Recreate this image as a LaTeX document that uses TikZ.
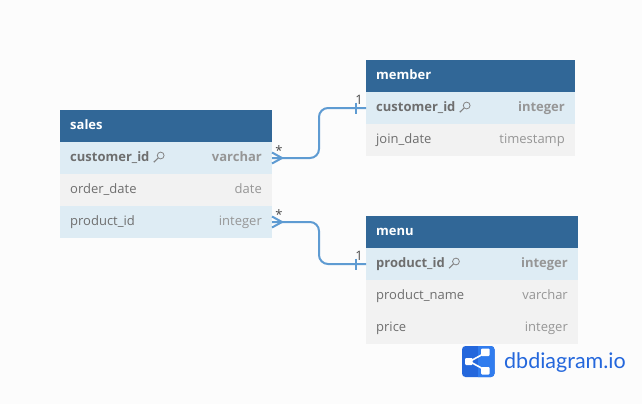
\documentclass[tikz,border=0pt]{standalone}
\usepackage{fontspec}
\setmainfont{Open Sans}
\newfontfamily\logofont{Lato}
\usepackage{xcolor}
\usetikzlibrary{positioning, calc}
\definecolor{pagewhite}{RGB}{252, 252, 252}
\definecolor{headblue}{RGB}{49, 103, 151}
\definecolor{keyrow}{RGB}{222, 236, 244}
\definecolor{plainrow}{RGB}{242, 242, 242}
\definecolor{linkblue}{RGB}{94, 155, 210}
\definecolor{namegray}{RGB}{110, 110, 110}
\definecolor{typegray}{RGB}{150, 150, 150}
\definecolor{logoblue}{RGB}{36, 103, 220}
\definecolor{logolight}{RGB}{48, 124, 238}

\begin{document}
\begin{tikzpicture}[
    x=1pt, y=-1pt,
    header/.style={rectangle, fill=headblue, text=white, inner sep=0pt, outer sep=0pt, minimum width=#1, minimum height=32pt, anchor=north west},
    headtext/.style={text=white, inner sep=0pt, anchor=base west, font=\fontsize{13}{15}\selectfont\bfseries},
    keybox/.style={rectangle, fill=keyrow, inner sep=0pt, outer sep=0pt, minimum width=#1, minimum height=32pt},
    plainbox/.style={rectangle, fill=plainrow, inner sep=0pt, outer sep=0pt, minimum width=#1, minimum height=32pt},
    colname/.style={text=namegray, font=\fontsize{13}{15}\selectfont, inner sep=0pt, anchor=base west},
    coltype/.style={text=typegray, font=\fontsize{13}{15}\selectfont, inner sep=0pt, anchor=base east},
    keyname/.style={text=namegray, font=\fontsize{13}{15}\selectfont\bfseries, inner sep=0pt, anchor=base west},
    keytype/.style={text=typegray, font=\fontsize{13}{15}\selectfont\bfseries, inner sep=0pt, anchor=base east},
    link/.style={draw=linkblue, line width=2pt, rounded corners=9pt},
    crow/.style={draw=linkblue, line width=2pt},
    endlabel/.style={text=black!70, font=\fontsize{13}{15}\selectfont, inner sep=0pt},
    keyicon/.pic={
        \draw[namegray!85, line width=0.8pt] (7.5,3.5) circle (3.4);
        \draw[namegray!85, line width=1.1pt] (5,6) -- (0.6,10.2);
    }
]
\useasboundingbox (0,0) rectangle (642,404);
\fill[pagewhite] (0,0) rectangle (642,404);

% sales
\node[header=212pt] (sales) at (60,110) {};
\node[keybox=212pt, below=0pt of sales] (sales-customer) {};
\node[plainbox=212pt, below=0pt of sales-customer] (sales-date) {};
\node[keybox=212pt, below=0pt of sales-date] (sales-product) {};
\node[headtext] at ($(sales.west)+(10,3)$) {sales};
\node[keyname] (sales-customer-name) at ($(sales-customer.west)+(10,3)$) {customer\_id};
\node[keytype] at ($(sales-customer.east)+(-10,3)$) {varchar};
\node[colname] at ($(sales-date.west)+(10,3)$) {order\_date};
\node[coltype] at ($(sales-date.east)+(-10,3)$) {date};
\node[colname] at ($(sales-product.west)+(10,3)$) {product\_id};
\node[coltype] at ($(sales-product.east)+(-10,3)$) {integer};
\pic at ($(sales-customer-name.base east)+(3.5,-9)$) {keyicon};

% member
\node[header=209pt] (member) at (366,60) {};
\node[keybox=209pt, below=0pt of member] (member-customer) {};
\node[plainbox=209pt, below=0pt of member-customer] (member-join) {};
\node[headtext] at ($(member.west)+(10,3)$) {member};
\node[keyname] (member-customer-name) at ($(member-customer.west)+(10,3)$) {customer\_id};
\node[keytype] at ($(member-customer.east)+(-10,3)$) {integer};
\node[colname] at ($(member-join.west)+(10,3)$) {join\_date};
\node[coltype] at ($(member-join.east)+(-10,3)$) {timestamp};
\pic at ($(member-customer-name.base east)+(3.5,-9)$) {keyicon};

% menu
\node[header=212pt] (menu) at (366,216) {};
\node[keybox=212pt, below=0pt of menu] (menu-product) {};
\node[plainbox=212pt, below=0pt of menu-product] (menu-name) {};
\node[plainbox=212pt, below=0pt of menu-name] (menu-price) {};
\node[headtext] at ($(menu.west)+(10,3)$) {menu};
\node[keyname] (menu-product-name) at ($(menu-product.west)+(10,3)$) {product\_id};
\node[keytype] at ($(menu-product.east)+(-10,3)$) {integer};
\node[colname] at ($(menu-name.west)+(10,3)$) {product\_name};
\node[coltype] at ($(menu-name.east)+(-10,3)$) {varchar};
\node[colname] at ($(menu-price.west)+(10,3)$) {price};
\node[coltype] at ($(menu-price.east)+(-10,3)$) {integer};
\pic at ($(menu-product-name.base east)+(3.5,-9)$) {keyicon};

% Connectors
\coordinate (bend) at (319,0);
\draw[link] (sales-customer.east) -- (bend |- sales-customer.east) -- (bend |- member-customer.west) -- (member-customer.west);
\draw[link] (sales-product.east) -- (bend |- sales-product.east) -- (bend |- menu-product.west) -- (menu-product.west);

% Crow feet and ticks
\draw[crow] ($(sales-customer.east)+(0,-5.5)$) -- ($(sales-customer.east)+(10,0)$) -- ($(sales-customer.east)+(0,5.5)$);
\draw[crow] ($(sales-product.east)+(0,-5.5)$) -- ($(sales-product.east)+(10,0)$) -- ($(sales-product.east)+(0,5.5)$);
\draw[crow] ($(member-customer.west)+(-10,-5.5)$) -- ($(member-customer.west)+(-10,5.5)$);
\draw[crow] ($(menu-product.west)+(-10,-5.5)$) -- ($(menu-product.west)+(-10,5.5)$);

% End labels
\node[endlabel] (star-a) at ($(sales-customer.east)+(7,-7)$) {*};
\node[endlabel] (star-b) at ($(sales-product.east)+(7,-7)$) {*};
\node[endlabel] (one-a) at ($(member-customer.west)+(-7,-8)$) {1};
\node[endlabel] (one-b) at ($(menu-product.west)+(-7,-8)$) {1};

% Logo
\fill[logoblue, rounded corners=3.5pt] (462,346) rectangle (494.5,377);
\fill[logolight] (478,346) [rounded corners=3.5pt] -- (494.5,346) -- (494.5,377) [sharp corners] -- (478,377) -- cycle;
\draw[white, line width=1.6pt] (486,352.5) -- (469.5,361.5) -- (486,370.5);
\fill[white, rounded corners=1pt] (465,358) rectangle (472.5,365);
\fill[white, rounded corners=1pt] (481,348.5) rectangle (489.5,356);
\fill[white, rounded corners=1pt] (481,367) rectangle (489.5,374.5);
\node[text=logoblue, inner sep=0pt, anchor=base west, font=\fontsize{21.5}{24}\logofont] (logo) at (504,368) {dbdiagram.io};

\end{tikzpicture}
\end{document}
